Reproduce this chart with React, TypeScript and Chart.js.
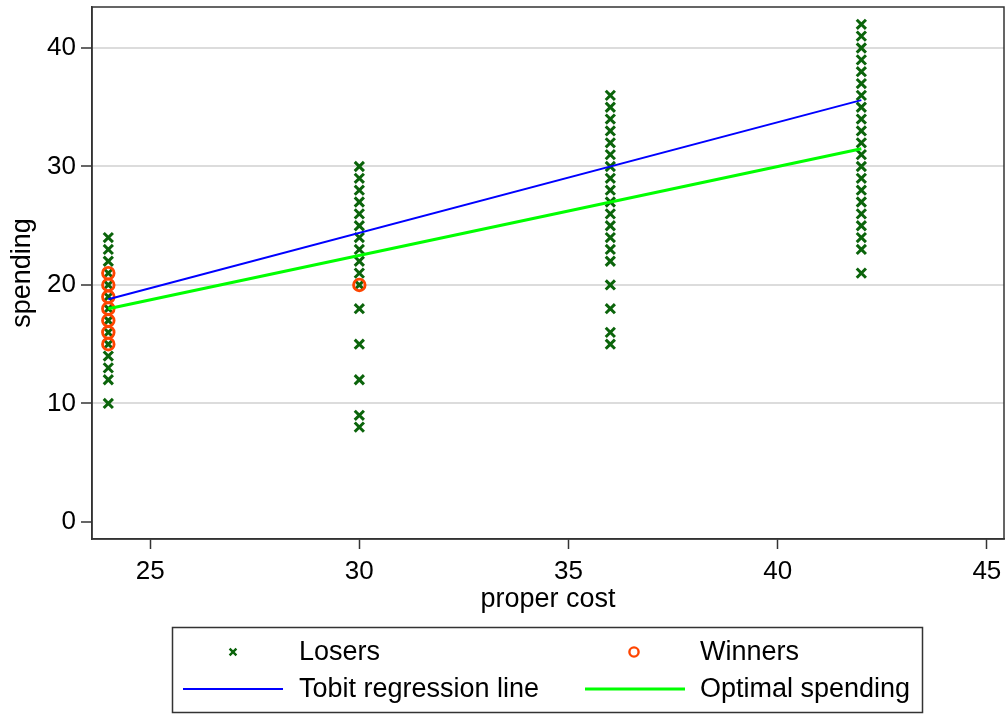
import React, { useEffect, useRef } from "react";
import { Chart, registerables } from "chart.js";
Chart.register(...registerables);

// ---- data ----
const losers24 = [10, 12, 13, 14, 15, 16, 17, 18, 19, 20, 21, 22, 23, 24];
const losers30 = [8, 9, 12, 15, 18, 20, 21, 22, 23, 24, 25, 26, 27, 28, 29, 30];
const losers36 = [15, 16, 18, 20, 22, 23, 24, 25, 26, 27, 28, 29, 30, 31, 32, 33, 34, 35, 36];
const losers42 = [21, 23, 24, 25, 26, 27, 28, 29, 30, 31, 32, 33, 34, 35, 36, 37, 38, 39, 40, 41, 42];
const winners24 = [15, 16, 17, 18, 19, 20, 21];
const winners30 = [20];
const lineCost = [24, 42];
const tobitSpending = [18.8, 35.6];
const optimalSpending = [18, 31.5];
const xTicks = [25, 30, 35, 40, 45];
const yTicks = [0, 10, 20, 30, 40];

const FONT = "'Liberation Sans', Arial, Helvetica, sans-serif";
const GREEN_MARK = "#0b640b";
const ORANGE = "#ff4500";
const BLUE = "#0000ff";
const LIME = "#00ff00";
const AXIS = "#333333";

const pts = (x: number, ys: number[]) => ys.map((y) => ({ x, y }));

const legendPlugin = {
  id: "stataLegend",
  afterDraw(chart: any) {
    const ctx = chart.ctx as CanvasRenderingContext2D;
    const a = chart.chartArea;
    ctx.save();
    // plot frame (top/right)
    ctx.strokeStyle = AXIS;
    ctx.lineWidth = 1.5;
    ctx.strokeRect(a.left, a.top, a.right - a.left, a.bottom - a.top);
    // legend box
    ctx.strokeStyle = AXIS;
    ctx.lineWidth = 1.5;
    ctx.strokeRect(172.5, 627.5, 750, 85);
    ctx.font = `27px ${FONT}`;
    ctx.fillStyle = "#000";
    ctx.textBaseline = "middle";
    ctx.textAlign = "left";
    const r1 = 652;
    const r2 = 689;
    ctx.fillText("Losers", 299, r1 + 1);
    ctx.fillText("Winners", 700, r1 + 1);
    ctx.fillText("Tobit regression line", 299, r2 + 1);
    ctx.fillText("Optimal spending", 700, r2 + 1);
    // x marker
    ctx.strokeStyle = GREEN_MARK;
    ctx.lineWidth = 2.4;
    const s = 3.4;
    ctx.beginPath();
    ctx.moveTo(233 - s, r1 - s);
    ctx.lineTo(233 + s, r1 + s);
    ctx.moveTo(233 - s, r1 + s);
    ctx.lineTo(233 + s, r1 - s);
    ctx.stroke();
    // circle marker
    ctx.strokeStyle = ORANGE;
    ctx.lineWidth = 2.4;
    ctx.beginPath();
    ctx.arc(634, r1, 4.6, 0, Math.PI * 2);
    ctx.stroke();
    // lines
    ctx.strokeStyle = BLUE;
    ctx.lineWidth = 2;
    ctx.beginPath();
    ctx.moveTo(183, r2);
    ctx.lineTo(283, r2);
    ctx.stroke();
    ctx.strokeStyle = LIME;
    ctx.lineWidth = 3;
    ctx.beginPath();
    ctx.moveTo(585, r2);
    ctx.lineTo(685, r2);
    ctx.stroke();
    ctx.restore();
  },
};

export default function App() {
  const ref = useRef<HTMLCanvasElement | null>(null);
  useEffect(() => {
    if (!ref.current) return;
    const losers = [
      ...pts(24, losers24),
      ...pts(30, losers30),
      ...pts(36, losers36),
      ...pts(42, losers42),
    ];
    const winners = [...pts(24, winners24), ...pts(30, winners30)];
    const tobit = lineCost.map((x, i) => ({ x, y: tobitSpending[i] }));
    const optimal = lineCost.map((x, i) => ({ x, y: optimalSpending[i] }));
    const tickFont = { family: FONT, size: 26 };
    const titleFont = { family: FONT, size: 27 };
    const chart = new Chart(ref.current, {
      type: "scatter",
      data: {
        datasets: [
          {
            label: "Losers",
            data: losers,
            pointStyle: "crossRot",
            pointRadius: 6.5,
            pointBorderWidth: 3,
            borderColor: GREEN_MARK,
            backgroundColor: GREEN_MARK,
            order: 4,
          },
          {
            label: "Winners",
            data: winners,
            pointStyle: "circle",
            pointRadius: 5.8,
            pointBorderWidth: 2.8,
            borderColor: ORANGE,
            backgroundColor: "rgba(0,0,0,0)",
            order: 3,
          },
          {
            label: "Tobit regression line",
            data: tobit,
            showLine: true,
            pointRadius: 0,
            borderColor: BLUE,
            borderWidth: 2,
            order: 2,
          },
          {
            label: "Optimal spending",
            data: optimal,
            showLine: true,
            pointRadius: 0,
            borderColor: LIME,
            borderWidth: 3,
            order: 1,
          },
        ],
      },
      options: {
        responsive: false,
        animation: false,
        layout: { autoPadding: false, padding: { left: 0, top: 7, right: 4, bottom: 96 } },
        plugins: { legend: { display: false }, tooltip: { enabled: false } },
        scales: {
          x: {
            type: "linear",
            min: 23.61,
            max: 45.41,
            afterBuildTicks: (s: any) => {
              s.ticks = xTicks.map((v) => ({ value: v }));
            },
            afterFit: (s: any) => {
              s.height = 80;
              s.paddingLeft = 0;
              s.paddingRight = 0;
            },
            ticks: { font: tickFont, color: "#000", padding: 7, maxRotation: 0 },
            grid: {
              drawOnChartArea: false,
              tickLength: 10,
              tickColor: AXIS,
              tickWidth: 1.5,
            },
            border: { display: true, color: AXIS, width: 1.5 },
            title: {
              display: true,
              text: "proper cost",
              font: titleFont,
              color: "#000",
              padding: { top: 0, bottom: 3 },
            },
          },
          y: {
            type: "linear",
            min: -1.44,
            max: 43.46,
            afterBuildTicks: (s: any) => {
              s.ticks = yTicks.map((v) => ({ value: v }));
            },
            afterFit: (s: any) => {
              s.width = 92;
              s.paddingTop = 0;
              s.paddingBottom = 0;
            },
            ticks: { font: tickFont, color: "#000", padding: 5 },
            grid: {
              color: (c: any) => (c.tick && c.tick.value === 0 ? "rgba(0,0,0,0)" : "#dcdcdc"),
              lineWidth: 2,
              tickLength: 11,
              tickColor: AXIS,
              tickWidth: 1.5,
            },
            border: { display: true, color: AXIS, width: 1.5 },
            title: {
              display: true,
              text: "spending",
              font: titleFont,
              color: "#000",
              padding: { top: 6, bottom: 0 },
            },
          },
        },
      },
      plugins: [legendPlugin],
    } as any);
    return () => chart.destroy();
  }, []);
  return (
    <div style={{ position: "absolute", left: 0, top: 0, width: 1008, height: 715, background: "#fff" }}>
      <canvas ref={ref} width={1008} height={715} style={{ width: 1008, height: 715 }} />
    </div>
  );
}
